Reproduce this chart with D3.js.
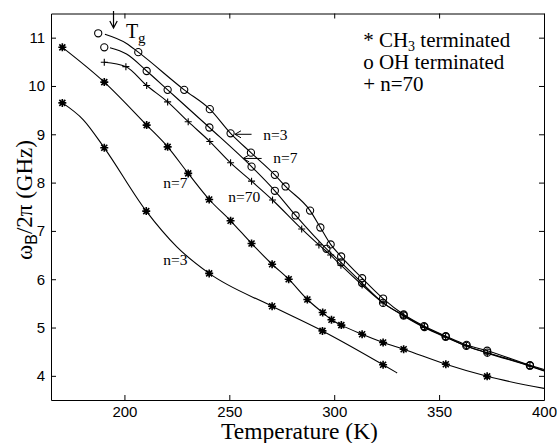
<!DOCTYPE html>
<html>
<head>
<meta charset="utf-8">
<script src="https://cdn.jsdelivr.net/npm/d3@7"></script>
<style>
    body { margin: 0; background: #fff; }
    svg { display: block; }
</style>
</head>
<body>
<div id="chart"></div>
<script>
// Axis ticks
const xTicks = [200, 250, 300, 350, 400];
const yTicks = [4, 5, 6, 7, 8, 9, 10, 11];

// CH3 terminated, n=3 (asterisks)
const ch3n3Markers = [[170.4, 9.65], [190.4, 8.72], [210.4, 7.41], [240.4, 6.12], [270.4, 5.44], [294.4, 4.93], [323.3, 4.23]];
const ch3n3Line = [[170.4, 9.65], [180.4, 9.30], [190.4, 8.72], [210.4, 7.41], [225, 6.67], [240.4, 6.12], [270.4, 5.44], [294.4, 4.93], [323.3, 4.23], [330, 4.06]];

// CH3 terminated, n=7 (asterisks)
const ch3n7Markers = [[170.4, 10.80], [190.4, 10.08], [210.6, 9.19], [220.6, 8.74], [230.4, 8.19], [240.4, 7.65], [250.6, 7.21], [260.6, 6.74], [270.4, 6.31], [278.3, 6.00], [287.2, 5.58], [294.5, 5.31], [298.7, 5.16], [303.4, 5.05], [313.3, 4.86], [323.3, 4.69], [333.1, 4.55], [353.2, 4.24], [372.9, 3.99]];
const ch3n7Line = ch3n7Markers.concat([[400, 3.74]]);

// OH terminated, n=3 (circles)
const ohn3Markers = [[187.5, 11.09], [206.6, 10.70], [228.5, 9.92], [240.7, 9.52], [250.6, 9.02], [260.3, 8.62], [271.7, 8.16], [276.8, 7.92], [288.5, 7.42], [293.4, 7.07], [298.3, 6.72], [303.3, 6.47], [313.3, 6.02], [323.3, 5.60], [333.1, 5.27], [342.8, 5.03], [353.2, 4.82], [363.1, 4.64], [372.9, 4.52], [393.3, 4.22]];
const ohn3Line = [[190.7, 11.07], [201, 10.88]].concat(ohn3Markers.slice(1), [[400, 4.13]]);

// OH terminated, n=7 (circles)
const ohn7Markers = [[190.4, 10.80], [210.6, 10.31], [220.6, 9.92], [240.5, 9.14], [260.6, 8.33], [271.7, 7.83], [281.6, 7.32], [296.3, 6.63], [303.2, 6.35], [313.3, 5.92], [323.3, 5.51], [333.1, 5.25], [343, 5.01], [353.1, 4.81], [363, 4.62], [373, 4.48], [393.3, 4.21]];
const ohn7Line = [[193.1, 10.79], [201, 10.66]].concat(ohn7Markers.slice(1), [[400, 4.11]]);

// n=70 (plus)
const n70Markers = [[190.4, 10.49], [200.7, 10.40], [210.6, 10.01], [220.6, 9.67], [230.4, 9.26], [240.7, 8.85], [250.6, 8.41], [260.6, 8.03], [270.6, 7.64], [284.5, 7.04], [292.7, 6.71], [298.3, 6.50], [303.2, 6.29], [313.3, 5.88], [323.3, 5.51], [333.1, 5.24], [343, 5.00], [353.1, 4.80], [363, 4.62], [373, 4.47], [393.3, 4.20]];
const n70Line = n70Markers.concat([[400, 4.10]]);

const series = [
    { line: ch3n3Line, markers: ch3n3Markers, symbol: "star" },
    { line: ch3n7Line, markers: ch3n7Markers, symbol: "star" },
    { line: ohn3Line, markers: ohn3Markers, symbol: "circle" },
    { line: ohn7Line, markers: ohn7Markers, symbol: "circle" },
    { line: n70Line, markers: n70Markers, symbol: "plus" }
];

// curve labels (data coords)
const curveLabels = [
    { text: "n=3", at: [266.2, 8.88] },
    { text: "n=7", at: [270.9, 8.40] },
    { text: "n=70", at: [249.5, 7.60] },
    { text: "n=7", at: [218.5, 7.88] },
    { text: "n=3", at: [218.5, 6.29] }
];
const labelArrows = [
    { from: [260.6, 9.0], to: [252.7, 9.0] },
    { from: [265.4, 8.50], to: [256.6, 8.50] }
];

const width = 557, height = 443;
const margin = { top: 13.5, right: 13, bottom: 43, left: 51 };
const serif = "'Liberation Serif', 'Times New Roman', serif";
const sans = "'Liberation Sans', Arial, sans-serif";

const svg = d3.select("#chart")
    .append("svg")
    .attr("width", width)
    .attr("height", height);

const x = d3.scaleLinear()
    .domain([165, 400])
    .range([margin.left, width - margin.right]);

const y = d3.scaleLinear()
    .domain([3.5, 11.5])
    .range([height - margin.bottom, margin.top]);

// Axes, ticks pointing inward on all four sides
function styleAxis(g) {
    g.selectAll("path, line").attr("stroke", "#000").attr("stroke-width", 1);
    g.selectAll("text").attr("fill", "#000").style("font-family", sans).style("font-size", "15px");
}

svg.append("g")
    .attr("transform", `translate(0,${height - margin.bottom})`)
    .call(d3.axisBottom(x).tickValues(xTicks).tickSizeInner(-5).tickSizeOuter(0).tickPadding(6))
    .call(styleAxis);

svg.append("g")
    .attr("transform", `translate(0,${margin.top})`)
    .call(d3.axisTop(x).tickValues(xTicks).tickSizeInner(-5).tickSizeOuter(0).tickFormat(""))
    .call(styleAxis);

svg.append("g")
    .attr("transform", `translate(${margin.left},0)`)
    .call(d3.axisLeft(y).tickValues(yTicks).tickSizeInner(-5).tickSizeOuter(0).tickPadding(6))
    .call(styleAxis);

svg.append("g")
    .attr("transform", `translate(${width - margin.right},0)`)
    .call(d3.axisRight(y).tickValues(yTicks).tickSizeInner(-5).tickSizeOuter(0).tickFormat(""))
    .call(styleAxis);

// Curves
const line = d3.line()
    .x(d => x(d[0]))
    .y(d => y(d[1]))
    .curve(d3.curveMonotoneX);

const plot = svg.append("g");

plot.selectAll(".curve")
    .data(series)
    .join("path")
    .attr("class", "curve")
    .attr("d", d => line(d.line))
    .attr("fill", "none")
    .attr("stroke", "#000")
    .attr("stroke-width", 1.1);

// Markers
const symbolPaths = {
    star: "M-4,0H4M0,-4V4M-3,-3L3,3M-3,3L3,-3",
    plus: "M-3.5,0H3.5M0,-3.5V3.5"
};

series.forEach(s => {
    const g = plot.append("g");
    if (s.symbol === "circle") {
        g.selectAll("circle")
            .data(s.markers)
            .join("circle")
            .attr("cx", d => x(d[0]))
            .attr("cy", d => y(d[1]))
            .attr("r", 3.6)
            .attr("fill", "none")
            .attr("stroke", "#000")
            .attr("stroke-width", 1.1);
    } else {
        g.selectAll("path")
            .data(s.markers)
            .join("path")
            .attr("transform", d => `translate(${x(d[0])},${y(d[1])})`)
            .attr("d", symbolPaths[s.symbol])
            .attr("fill", "none")
            .attr("stroke", "#000")
            .attr("stroke-width", s.symbol === "star" ? 1.6 : 1.1);
    }
});

// Curve labels and pointer arrows
plot.selectAll(".clabel")
    .data(curveLabels)
    .join("text")
    .attr("class", "clabel")
    .attr("x", d => x(d.at[0]))
    .attr("y", d => y(d.at[1]))
    .style("font-family", serif)
    .style("font-size", "15.5px")
    .text(d => d.text);

labelArrows.forEach(a => {
    const x0 = x(a.from[0]), y0 = y(a.from[1]);
    const x1 = x(a.to[0]), y1 = y(a.to[1]);
    plot.append("path")
        .attr("d", `M${x0},${y0}L${x1},${y1}M${x1 + 6},${y1 - 3.5}L${x1},${y1}L${x1 + 6},${y1 + 3.5}`)
        .attr("fill", "none")
        .attr("stroke", "#000")
        .attr("stroke-width", 1);
});

// Tg arrow and label
const tgX = x(194.8);
svg.append("path")
    .attr("d", `M${tgX},${y(11.55)}V${y(11.2)}M${tgX - 3.7},${y(11.2) - 7}L${tgX},${y(11.2)}L${tgX + 3.7},${y(11.2) - 7}`)
    .attr("fill", "none")
    .attr("stroke", "#000")
    .attr("stroke-width", 1.2);

const tg = svg.append("text")
    .attr("x", x(200.7))
    .attr("y", y(10.99))
    .style("font-family", serif)
    .style("font-size", "20px");
tg.append("tspan").text("T");
tg.append("tspan").attr("dy", 5).style("font-size", "15px").text("g");

// Legend
const legend = svg.append("g")
    .attr("transform", `translate(${x(313.8)},0)`)
    .style("font-family", serif)
    .style("font-size", "21px");

const l1 = legend.append("text").attr("y", 46.5);
l1.append("tspan").text("* CH");
l1.append("tspan").attr("dy", 4).style("font-size", "14px").text("3");
l1.append("tspan").attr("dy", -4).text(" terminated");
legend.append("text").attr("y", 68.5).text("o OH terminated");
legend.append("text").attr("y", 90.5).text("+ n=70");

// Axis titles
svg.append("text")
    .attr("x", (margin.left + width - margin.right) / 2 + 2)
    .attr("y", 439)
    .attr("text-anchor", "middle")
    .style("font-family", serif)
    .style("font-size", "23.5px")
    .text("Temperature (K)");

const yTitle = svg.append("text")
    .attr("transform", "translate(32,200) rotate(-90)")
    .attr("text-anchor", "middle")
    .style("font-family", serif)
    .style("font-size", "23px");
yTitle.append("tspan").text("ω");
yTitle.append("tspan").attr("dy", 5).style("font-size", "16px").style("font-family", sans).text("B");
yTitle.append("tspan").attr("dy", -5).text("/2π (GHz)");
</script>
</body>
</html>
